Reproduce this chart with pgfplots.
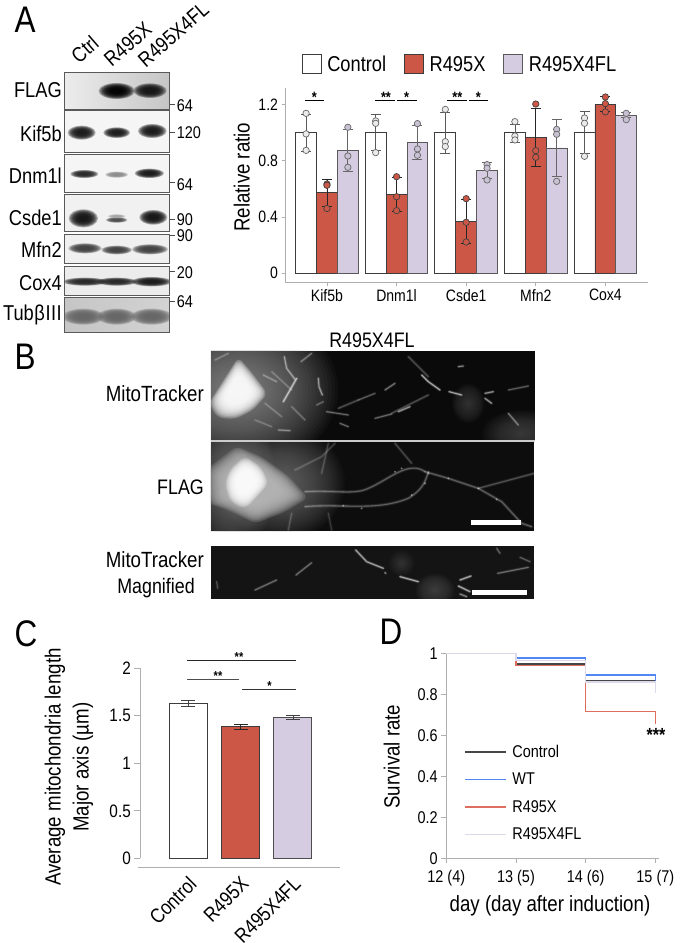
\documentclass[border=0pt]{standalone}
\usepackage{pgfplots}
\pgfplotsset{compat=1.18}
\usepackage{fontspec}
\setmainfont[FakeStretch=0.85]{Liberation Sans}
\newcommand\fs[1]{\fontsize{#1}{#1}\selectfont}
\definecolor{cred}{RGB}{205,87,70}
\definecolor{clil}{RGB}{213,204,226}
\definecolor{edge}{RGB}{60,60,60}
\definecolor{axg}{RGB}{175,175,175}
\definecolor{lblue}{RGB}{80,135,245}
\definecolor{lred}{RGB}{222,110,95}
\definecolor{llil}{RGB}{222,216,235}
\definecolor{ldark}{RGB}{70,70,70}
% soft ellipses built from concentric translucent layers
\newcommand\band[5]{\foreach \k in {4,...,13}{\fill[#5,opacity=.3] (#1,#2) ellipse [x radius={#3*\k/13},y radius={#4*\k/13}];}}
\newcommand\haze[5]{\foreach \k in {1,...,30}{\fill[#5,opacity=.04] (#1,#2) ellipse [x radius={#3*\k/30},y radius={#4*\k/30}];}}
% soft polygon: cx cy colour path-relative-to-centre
\newcommand\softpoly[4]{\foreach \s in {.55,.6,...,1.15}{\begin{scope}[shift={(#1,#2)},scale=\s]\fill[#3,opacity=.22,rounded corners=6pt] #4 -- cycle;\end{scope}}}
\newcommand\mfil[2]{\draw[white,opacity=.10*#1,line width=3.4pt,line cap=round] #2; \draw[white,opacity=.25*#1,line width=2.2pt,line cap=round] #2; \draw[white,opacity=.6*#1,line width=1pt,line cap=round] #2;}
\newcommand\dfil[2]{\draw[white,opacity=.08*#1,line width=3.4pt,line cap=round] #2; \draw[white,opacity=.14*#1,line width=1.8pt,line cap=round] #2; \draw[white,opacity=.18*#1,line width=.8pt,line cap=round] #2;}
\pgfplotsset{
  ticks num/.style={/pgf/number format/assume math mode=true},
  bar base/.style={ybar,bar width=0.3,bar shift=0pt,line width=.8pt},
  err/.style={error bars/.cd,y dir=both,y explicit,error bar style={draw=#1,line width=.8pt},error mark options={rotate=90,mark size=5pt,draw=#1,line width=.8pt}},
}
\begin{document}
\begin{tikzpicture}
\useasboundingbox (0,0) rectangle (685pt,-943pt);

% ---------- panel letters ----------
\node[font=\fs{37},anchor=center] at (25pt,-20pt) {A};
\node[font=\fs{37},anchor=center] at (25pt,-357pt) {B};
\node[font=\fs{37},anchor=center] at (26pt,-634pt) {C};
\node[font=\fs{37},anchor=center] at (391pt,-632pt) {D};

% ---------- A: blots ----------
\begin{scope}[x=.33333pt,y=-.33333pt]
\shade[left color=gray!15,right color=gray!45] (195,217) rectangle (508,328);
\fill[gray!8] (195,332) rectangle (508,458);
\fill[gray!8] (195,462) rectangle (508,578);
\fill[gray!11] (195,582) rectangle (508,695);
\fill[gray!12] (195,703) rectangle (508,790);
\fill[gray!15] (195,798) rectangle (508,885);
\shade[left color=gray!45,right color=gray!35] (195,892) rectangle (508,998);
\begin{scope}
\clip (195,217) rectangle (508,998);
\band{350}{273}{54}{24}{black}\band{450}{272}{50}{22}{black!92}
\band{245}{398}{42}{21}{black!90}\band{350}{398}{40}{16}{black!90}\band{457}{393}{43}{21}{black!90}
\band{253}{522}{42}{12}{black!85}\band{350}{524}{34}{9}{black!45}\band{448}{520}{44}{14}{black!90}
\band{250}{655}{44}{27}{black!92}\band{350}{660}{32}{8}{black!70}\band{350}{649}{26}{6}{black!35}\band{460}{652}{42}{22}{black!92}
\band{255}{745}{50}{15}{black!75}\band{350}{750}{46}{13}{black!75}\band{450}{748}{54}{15}{black!75}
\band{255}{845}{66}{12}{black!85}\band{350}{845}{60}{12}{black!85}\band{455}{845}{60}{14}{black!90}
\band{250}{950}{62}{24}{black!60}\band{350}{950}{58}{24}{black!60}\band{455}{950}{62}{24}{black!60}
\end{scope}
\foreach \a/\b in {217/328,332/458,462/578,582/695,703/790,798/885,892/998}
  \draw[black!65,line width=1pt] (195,\a) rectangle (508,\b);
\foreach \t in {312,398,548,658,705,815,903} \draw[black!70,line width=.7pt] (510,\t)--(525,\t);
\foreach \t/\l in {316/64,398/120,553/64,658/90,708/90,818/20,906/64}
  \node[font=\fs{17},anchor=west,inner sep=0pt] at (530,\t) {\l};
\foreach \t/\l in {270/FLAG,400/Kif5b,527/Dnm1l,652/Csde1,748/Mfn2,848/Cox4,945/Tub\hspace{.6pt}β\hspace{.6pt}I\hspace{.5pt}I\hspace{.5pt}I}
  \node[font=\fs{21.5},anchor=east,inner sep=0pt] at (186,\t) {\l};
\node[font=\fs{21},rotate=41,anchor=south west,inner sep=0pt] at (238,194) {Ctrl};
\node[font=\fs{21},rotate=41,anchor=south west,inner sep=0pt] at (336,204) {R495X};
\node[font=\fs{21},rotate=41,anchor=south west,inner sep=0pt] at (438,206) {R495X4FL};
\end{scope}

% ---------- A: bar chart ----------
\begin{axis}[
  at={(285pt,-282.3pt)},anchor=south west,scale only axis,
  width=362.7pt,height=194.6pt,
  xmin=-0.603,xmax=4.608,ymin=-0.064,ymax=1.318,
  axis x line*=bottom,axis y line*=left,
  axis line style={-,draw=axg,line width=.9pt},
  tick style={draw=axg,line width=.7pt},tick align=outside,major tick length=3.5pt,
  xtick={0,1,2,3,4},xticklabels={Kif5b,Dnm1l,Csde1,Mfn2,Cox4},
  ytick={0,0.4,0.8,1.2},yticklabels={0,0.4,0.8,1.2},
  tick label style={font=\fs{16.5}},ticks num,
  clip=false,
  ylabel={Relative ratio},
  ylabel style={font=\fs{22},at={(axis description cs:-0.119,0.54)},anchor=center},
  legend style={at={(axis description cs:0.046,1.12)},anchor=west,draw=none,fill=none,legend columns=3,inner sep=0pt,font=\fs{21.5},
    /tikz/every even column/.append style={column sep=16pt}},
  legend image code/.code={\draw[#1,line width=1pt] (0pt,-9.5pt) rectangle (19pt,9.5pt); \path (22.5pt,0pt);},
]
\addplot[bar base,draw=edge,fill=white,err=black!65] table[x=x,y=y,y error plus=ep,y error minus=em]{
x y ep em
-0.3 1 .131 .136
0.7 1 .127 .124
1.7 1 .143 .148
2.7 1 .06 .067
3.7 1 .148 .148
};\addlegendentry{Control}
\addplot[bar base,draw=edge,fill=cred,err=black!85] table[x=x,y=y,y error plus=ep,y error minus=em]{
x y ep em
0 .573 .094 .097
1 .56 .122 .122
2 .37 .155 .155
3 .966 .206 .206
4 1.2 .054 .047
};\addlegendentry{R495X}
\addplot[bar base,draw=black!65,fill=clil,err=black!60] table[x=x,y=y,y error plus=ep,y error minus=em]{
x y ep em
0.3 .873 .147 .146
1.3 .93 .118 .12
2.3 .73 .056 .055
3.3 .89 .201 .204
4.3 1.122 .021 .017
};\addlegendentry{R495X4FL}
\addplot[forget plot,only marks,mark=*,mark size=3.2pt,mark options={fill=white!92!black,draw=black!60,line width=.7pt}] coordinates {
(-0.3,1.136)(-0.3,.99)(-0.3,.873)(0.7,1.082)(0.7,1.065)(0.7,.857)(1.7,1.164)(1.7,.935)(1.7,.9)(2.7,1.077)(2.7,.975)(2.7,.947)(3.7,1.103)(3.7,1.065)(3.7,.831)};
\addplot[forget plot,only marks,mark=*,mark size=3.2pt,mark options={fill=cred,draw=black!75,line width=.7pt}] coordinates {
(0,.634)(0,.625)(0,.46)(1,.686)(1,.544)(1,.445)(2,.53)(2,.362)(2,.222)(3,1.202)(3,.871)(3,.824)(4,1.252)(4,1.205)(4,1.146)};
\addplot[forget plot,only marks,mark=*,mark size=3.2pt,mark options={fill=clil!85!gray,draw=black!60,line width=.7pt}] coordinates {
(0.3,1.037)(0.3,.833)(0.3,.753)(1.3,1.063)(1.3,.883)(1.3,.838)(2.3,.772)(2.3,.746)(2.3,.663)(3.3,1.022)(3.3,.987)(3.3,.653)(4.3,1.136)(4.3,1.091)};
\end{axis}
\begin{scope}[shift={(225pt,-40pt)},x=.33333pt,y=-.33333pt]
\foreach \a/\b in {240/297,451/510,516/575,667/725,732/790} \draw[black,line width=.9pt] (\a,182)--(\b,182);
\foreach \a/\s in {268/*,483/**,545/*,697/**,760/*}
  \node[font=\fs{15},inner sep=0pt,anchor=center] at (\a,172) {\textbf{\s}};
\end{scope}

% ---------- B: micrographs ----------
\node[font=\fs{21},anchor=center,inner sep=0pt] at (372pt,-340pt) {R495X4FL};
\node[font=\fs{22},anchor=east,inner sep=0pt] at (204pt,-394pt) {MitoTracker};
\node[font=\fs{21},anchor=east,inner sep=0pt] at (204pt,-487pt) {FLAG};
\node[font=\fs{22},anchor=east,inner sep=0pt] at (204pt,-560pt) {MitoTracker};
\node[font=\fs{21},anchor=center,inner sep=0pt] at (156pt,-588pt) {Magnified};

\begin{scope}[shift={(195pt,-340pt)},x=.33333pt,y=-.33333pt]
\fill[black!96] (47,32) rectangle (1020,300);
\begin{scope}
\clip (47,32) rectangle (1020,300);
\haze{130}{150}{300}{240}{white!72!black}
\haze{980}{280}{120}{70}{white!35!black}
\haze{820}{190}{50}{60}{white!30!black}
\softpoly{130}{150}{white}{(0,-90)--(35,-50)--(80,10)--(40,55)--(-10,80)--(-58,75)--(-80,35)--(-35,-35)}
\mfil{.9}{(265,185)--(305,115)}
\mfil{.6}{(268,50)--(275,85)--(300,118)}
\mfil{.65}{(370,115)--(372,140)--(382,165)}
\mfil{.45}{(318,65)--(350,40)}
\mfil{.4}{(490,180)--(540,160)}
\mfil{.5}{(570,150)--(600,130)}
\mfil{.7}{(610,215)--(645,200)}
\mfil{.45}{(540,235)--(590,222)}
\mfil{.85}{(680,105)--(700,125)--(735,150)}
\mfil{.8}{(762,155)--(800,165)}
\mfil{.7}{(870,160)--(895,155)}
\mfil{.7}{(870,175)--(890,190)}
\mfil{.4}{(940,150)--(1000,138)}
\mfil{.5}{(940,220)--(970,255)}
\mfil{.6}{(790,80)--(805,78)}
\mfil{.45}{(395,215)--(460,225)}
\mfil{.45}{(435,250)--(460,260)}
\mfil{.35}{(365,195)--(385,185)}
\mfil{.5}{(250,270)--(285,272)}
\mfil{.4}{(205,105)--(245,125)}
\mfil{.35}{(290,200)--(330,240)}
\mfil{.35}{(60,60)--(100,40)}
\mfil{.3}{(210,190)--(260,230)}
\mfil{.3}{(180,240)--(230,260)}
\mfil{.3}{(230,95)--(290,150)}
\dfil{.8}{(430,205)--(490,180)}
\dfil{.8}{(640,50)--(700,110)}
\dfil{.8}{(590,220)--(700,165)}
\end{scope}
\end{scope}
\fill[black!20] (210.7pt,-440pt) rectangle (535pt,-441.8pt);
\begin{scope}[shift={(195pt,-440pt)},x=.33333pt,y=-.33333pt]
\fill[black!95] (47,6) rectangle (1018,274);
\begin{scope}
\clip (47,6) rectangle (1018,274);
\haze{110}{120}{130}{230}{white!60!black}
\haze{260}{130}{190}{170}{white!55!black}
\softpoly{180}{140}{white!72!black}{(-135,-45)--(-50,-110)--(20,-80)--(90,-30)--(145,30)--(80,70)--(0,100)--(-70,65)--(-130,45)}
\softpoly{155}{125}{white}{(-45,-35)--(-5,-70)--(40,-40)--(60,5)--(25,45)--(-5,75)--(-45,55)--(-60,5)}
\dfil{1}{(330,155)..controls(420,150)and(480,165)..(520,145)..controls(580,120)and(640,60)..(690,95)}
\dfil{1}{(330,200)..controls(440,190)and(540,215)..(640,175)..controls(680,150)and(690,130)..(700,95)}
\dfil{1}{(690,95)--(760,115)--(850,145)--(920,185)--(980,250)--(1010,260)}
\dfil{.8}{(850,145)--(1018,100)}
\dfil{.7}{(650,70)--(600,10)}
\dfil{.6}{(380,100)--(400,10)}
\dfil{.6}{(300,90)--(380,50)--(420,10)}
\dfil{.6}{(290,220)--(280,270)}
\dfil{.5}{(400,220)--(410,270)}
\foreach \p/\q in {445/197,600/95,700/100,760/115,850/145,905/178,690/130,650/165,500/205,620/85}
  \fill[white,opacity=.4] (\p,\q) circle [radius=3.5];
\end{scope}
\fill[white] (828,240) rectangle (978,254);
\end{scope}
\begin{scope}[shift={(195pt,-440pt)},x=.33333pt,y=-.33333pt]
\fill[black!92] (47,318) rectangle (1018,476);
\begin{scope}
\clip (47,318) rectangle (1018,476);
\haze{720}{450}{60}{50}{white!35!black}
\haze{620}{370}{40}{40}{white!28!black}
\mfil{.8}{(482,330)--(515,365)--(565,385)}
\mfil{.7}{(570,398)--(572,400)}
\mfil{.85}{(615,410)--(670,425)}
\mfil{.85}{(795,420)--(828,408)}
\mfil{.85}{(790,438)--(825,455)}
\mfil{.6}{(795,462)--(815,470)}
\mfil{.45}{(180,450)--(245,420)}
\mfil{.45}{(303,405)--(350,368)}
\mfil{.45}{(908,400)--(1000,382)}
\mfil{.4}{(905,325)--(915,340)}
\mfil{.35}{(975,352)--(1005,365)}
\mfil{.3}{(65,425)--(68,445)}
\end{scope}
\fill[white] (832,451) rectangle (995,466);
\end{scope}

% ---------- C ----------
\begin{axis}[
  at={(140.3pt,-858.3pt)},anchor=south west,scale only axis,
  width=199.7pt,height=190pt,
  xmin=-0.918,xmax=2.90,ymin=0,ymax=2,
  axis x line*=bottom,axis y line*=left,
  x axis line style={draw=none},
  y axis line style={-,draw=axg,line width=1pt},
  xtick={0,1,2},xticklabels={Control,R495X,R495X4FL},
  x tick style={draw=none},
  y tick style={draw=axg,line width=.8pt},tick align=outside,y tick label style={font=\fs{18}},major tick length=6pt,
  ytick={0,0.5,1,1.5,2},yticklabels={0,0.5,1,1.5,2},
  xticklabel style={font=\fs{20.5},xshift=-1pt,yshift=-11pt,rotate=45,anchor=north east,inner sep=0pt},
  ticks num,clip=false,
  ylabel={Average mitochondria length\\Major axis (µm)},
  ylabel style={font=\fontsize{22}{28}\selectfont,align=center,at={(axis description cs:-0.357,0.48)},anchor=center},
]
\addplot[ybar,bar width=38pt,bar shift=0pt,draw=edge,fill=white,line width=.9pt,
  error bars/.cd,y dir=both,y explicit,error bar style={draw=black!75,line width=.7pt},error mark options={rotate=90,mark size=7pt,draw=black!75,line width=.7pt}]
  coordinates {(0,1.628)+-(0,.03)};
\addplot[ybar,bar width=38pt,bar shift=0pt,draw=edge,fill=cred,line width=.9pt,
  error bars/.cd,y dir=both,y explicit,error bar style={draw=black!85,line width=.7pt},error mark options={rotate=90,mark size=7pt,draw=black!85,line width=.7pt}]
  coordinates {(1,1.386)+-(0,.025)};
\addplot[ybar,bar width=38pt,bar shift=0pt,draw=black!70,fill=clil,line width=.9pt,
  error bars/.cd,y dir=both,y explicit,error bar style={draw=black!75,line width=.7pt},error mark options={rotate=90,mark size=7pt,draw=black!75,line width=.7pt}]
  coordinates {(2,1.484)+-(0,.025)};
\end{axis}
\draw[axg,line width=1pt] (138pt,-867.7pt)--(340pt,-867.7pt);
\draw[black!85,line width=.9pt] (187.3pt,-660.7pt)--(296pt,-660.7pt);
\draw[black!70,line width=.9pt] (187.3pt,-679.7pt)--(239pt,-679.7pt);
\draw[black!80,line width=.9pt] (241.7pt,-689.3pt)--(296pt,-689.3pt);
\node[font=\fs{13},inner sep=0pt] at (239pt,-657pt) {\textbf{**}};
\node[font=\fs{13},inner sep=0pt] at (218pt,-676pt) {\textbf{**}};
\node[font=\fs{13},inner sep=0pt] at (269.5pt,-686pt) {\textbf{*}};

% ---------- D ----------
\begin{axis}[
  at={(446.3pt,-858.3pt)},anchor=south west,scale only axis,
  width=212.7pt,height=205pt,
  xmin=12,xmax=15.053,ymin=0,ymax=1,
  axis x line*=bottom,axis y line*=left,
  axis line style={-,draw=axg,line width=.9pt},
  tick style={draw=axg,line width=.8pt},tick align=outside,major tick length=5pt,
  xtick={12,13,14,15},xticklabels={12 (4),13 (5),14 (6),15 (7)},
  ytick={0,0.2,0.4,0.6,0.8,1},yticklabels={0,0.2,0.4,0.6,0.8,1},
  tick label style={font=\fs{17}},x tick label style={yshift=-3pt},ticks num,clip=false,
  xlabel={day (day after induction)},
  xlabel style={font=\fs{22},at={(axis description cs:0.4875,-0.232)},anchor=center},
  ylabel={Survival rate},
  ylabel style={font=\fs{22},at={(axis description cs:-0.257,0.496)},anchor=center},
  legend cell align=left,
  legend style={at={(axis description cs:0.0846,0.5624)},anchor=north west,draw=none,fill=none,inner sep=0pt,row sep=10pt,font=\fs{17}},
  legend image code/.code={\draw[draw=#1,line width=1.5pt] (0pt,0pt)--(40.7pt,0pt); \path (45pt,0pt);},
]
\addlegendimage{ldark}\addlegendentry{Control}
\addlegendimage{lblue}\addlegendentry{WT}
\addlegendimage{lred}\addlegendentry{R495X}
\addlegendimage{llil}\addlegendentry{R495X4FL}
\addplot[forget plot,draw=ldark,line width=1.5pt] coordinates {(12,1)(13,1)(13,.948)(14,.948)(14,.868)(15,.868)};
\addplot[forget plot,draw=lblue,line width=1.5pt] coordinates {(12,1)(13,1)(13,.976)(14,.976)(14,.893)(15,.893)(15,.867)};
\addplot[forget plot,draw=lred,line width=1.5pt] coordinates {(12,1)(13,1)(13,.94)(14,.94)(14,.715)(15,.715)(15,.655)};
\addplot[forget plot,draw=llil,line width=1.5pt] coordinates {(12,1)(13,1)(13,.964)(14,.964)(14,.861)(15,.861)(15,.805)};
\end{axis}
\node[font=\fs{19},inner sep=0pt] at (656pt,-734.5pt) {\textbf{***}};
\end{tikzpicture}
\end{document}
